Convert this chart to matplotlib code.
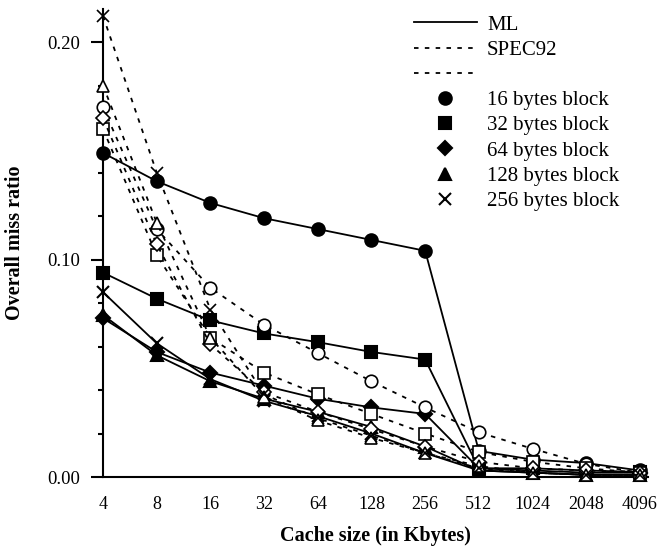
import matplotlib
matplotlib.use("Agg")
import matplotlib.pyplot as plt
from matplotlib.lines import Line2D

# cache sizes in Kbytes (equally spaced on the x axis)
cache_sizes = ["4", "8", "16", "32", "64", "128", "256", "512", "1024", "2048", "4096"]
block_labels = ["16 bytes block", "32 bytes block", "64 bytes block",
                "128 bytes block", "256 bytes block"]

# ML workload (solid lines, filled markers)
ml_16 = [0.149, 0.136, 0.126, 0.119, 0.114, 0.109, 0.104, 0.012, 0.008, 0.0064, 0.003]
ml_32 = [0.094, 0.082, 0.072, 0.066, 0.062, 0.0575, 0.054, 0.004, 0.004, 0.003, 0.0023]
ml_64 = [0.073, 0.0575, 0.048, 0.042, 0.036, 0.032, 0.029, 0.004, 0.003, 0.002, 0.002]
ml_128 = [0.0745, 0.056, 0.044, 0.036, 0.030, 0.023, 0.014, 0.003, 0.002, 0.001, 0.001]
ml_256 = [0.085, 0.0615, 0.045, 0.035, 0.028, 0.020, 0.011, 0.003, 0.002, 0.001, 0.001]

# SPEC92 workload (dashed lines, open markers)
spec_16 = [0.170, 0.114, 0.087, 0.070, 0.057, 0.044, 0.032, 0.0205, 0.013, 0.006, 0.002]
spec_32 = [0.160, 0.102, 0.064, 0.048, 0.038, 0.029, 0.020, 0.0115, 0.007, 0.004, 0.002]
spec_64 = [0.165, 0.107, 0.061, 0.039, 0.030, 0.022, 0.014, 0.007, 0.004, 0.003, 0.002]
spec_128 = [0.180, 0.117, 0.064, 0.037, 0.026, 0.018, 0.011, 0.005, 0.002, 0.001, 0.001]
spec_256 = [0.212, 0.140, 0.077, 0.038, 0.027, 0.019, 0.011, 0.004, 0.002, 0.001, 0.001]

markers = ["o", "s", "D", "^", "x"]
msizes = [9, 8, 7, 8.5, 9]

plt.rcParams["font.family"] = ["Liberation Serif", "DejaVu Serif"]

fig = plt.figure(figsize=(6.59, 5.48), dpi=100)
ax = fig.add_axes([103 / 659, 71 / 548, 545 / 659, 467.6 / 548])
x = list(range(len(cache_sizes)))

ml_series = [ml_16, ml_32, ml_64, ml_128, ml_256]
spec_series = [spec_16, spec_32, spec_64, spec_128, spec_256]

for ys, m, ms in zip(ml_series, markers, msizes):
    ax.plot(x, ys, color="black", lw=1.3, marker=m, ms=ms,
            mfc="black", mec="black", mew=1.5, clip_on=False, zorder=3)

for ys, m, ms in zip(spec_series, markers, msizes):
    ax.plot(x, ys, color="black", lw=1.3, dashes=(2.5, 3.5), marker=m, ms=ms,
            mfc="white", mec="black", mew=1.2, clip_on=False, zorder=4)

ax.set_xlim(0, 10.15)
ax.set_ylim(0, 0.215)
ax.set_xticks(x)
ax.set_xticklabels(cache_sizes)
ax.set_yticks([0.0, 0.10, 0.20])
ax.set_yticklabels(["0.00", "0.10", "0.20"])
ax.set_yticks([0.02, 0.04, 0.06, 0.08, 0.12, 0.14, 0.16, 0.18], minor=True)
ax.tick_params(axis="x", length=0, pad=14, labelsize=13)
ax.tick_params(axis="y", which="major", length=8.5, width=1.5, pad=8, labelsize=13.5)
ax.tick_params(axis="y", which="minor", length=3.6, width=1.5)

for side in ["top", "right"]:
    ax.spines[side].set_visible(False)
for side in ["left", "bottom"]:
    ax.spines[side].set_linewidth(1.5)

ax.set_xlabel("Cache size (in Kbytes)", fontsize=14.5, fontweight="bold", labelpad=9)
ax.set_ylabel("Overall miss ratio", fontsize=14.5, fontweight="bold", labelpad=16)

handles = [
    Line2D([], [], color="black", lw=1.3),
    Line2D([], [], color="black", lw=1.3, dashes=(2.5, 3.5)),
    Line2D([], [], color="black", lw=1.3, dashes=(2.5, 3.5)),
]
labels = ["ML", "SPEC92", ""]
for m, ms, lab in zip(markers, msizes, block_labels):
    handles.append(Line2D([], [], ls="none", marker=m, ms=ms, mfc="black",
                          mec="black", mew=1.5))
    labels.append(lab)

leg = fig.legend(handles, labels, loc="upper left",
                 bbox_to_anchor=(414 / 659, 1 - 15 / 548),
                 frameon=False, fontsize=15, handlelength=3.0,
                 handletextpad=0.5, labelspacing=0.27, borderpad=0,
                 borderaxespad=0)

fig.savefig("out.png", dpi=100)
